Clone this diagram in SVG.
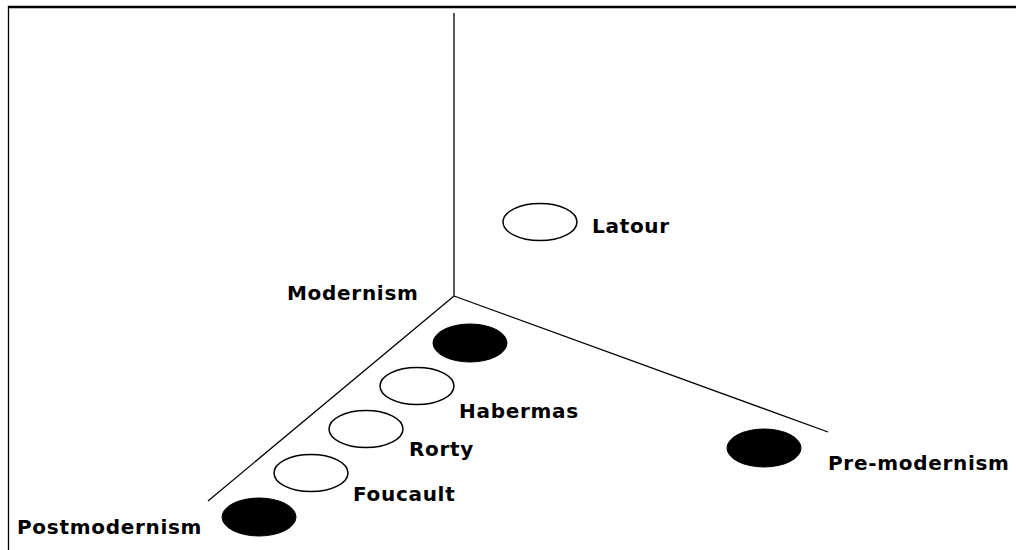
<svg xmlns="http://www.w3.org/2000/svg" width="1016" height="550" viewBox="0 0 1016 550">
<style>
.lbl{font-family:"DejaVu Sans",Verdana,sans-serif;font-weight:bold;font-size:20px;letter-spacing:0.7px;fill:#000}
.open{fill:#fff;stroke:#000;stroke-width:1.5}
.full{fill:#000;stroke:#000;stroke-width:1}
.ax{stroke:#000;stroke-width:1.3;fill:none}
</style>
<rect x="0" y="0" width="1016" height="550" fill="#fff"/>
<line x1="8" y1="7" x2="1016" y2="7" stroke="#000" stroke-width="2.5"/>
<line x1="8.5" y1="6" x2="8.5" y2="550" stroke="#000" stroke-width="1.3"/>
<g id="connectors">
<line class="ax" x1="454" y1="13" x2="454" y2="296"/>
<line class="ax" x1="454" y1="296" x2="208" y2="501"/>
<line class="ax" x1="454" y1="296" x2="828" y2="432"/>
</g>
<g id="modernism"><text class="lbl" x="287" y="300">Modernism</text></g>
<g id="latour"><ellipse class="open" cx="540" cy="222" rx="37" ry="18.5"/><text class="lbl" x="592" y="233">Latour</text></g>
<g id="modern-dot"><ellipse class="full" cx="470" cy="343" rx="37" ry="19"/></g>
<g id="habermas"><ellipse class="open" cx="417" cy="386" rx="37" ry="18.5"/><text class="lbl" x="459" y="418">Habermas</text></g>
<g id="rorty"><ellipse class="open" cx="366" cy="429" rx="37" ry="18.5"/><text class="lbl" x="409" y="456">Rorty</text></g>
<g id="foucault"><ellipse class="open" cx="311" cy="473" rx="37" ry="18.5"/><text class="lbl" x="353" y="501">Foucault</text></g>
<g id="postmodernism"><ellipse class="full" cx="259" cy="517" rx="37" ry="19"/><text class="lbl" x="17" y="534">Postmodernism</text></g>
<g id="premodernism"><ellipse class="full" cx="764" cy="448" rx="37" ry="19"/><text class="lbl" x="828" y="470">Pre-modernism</text></g>
</svg>
